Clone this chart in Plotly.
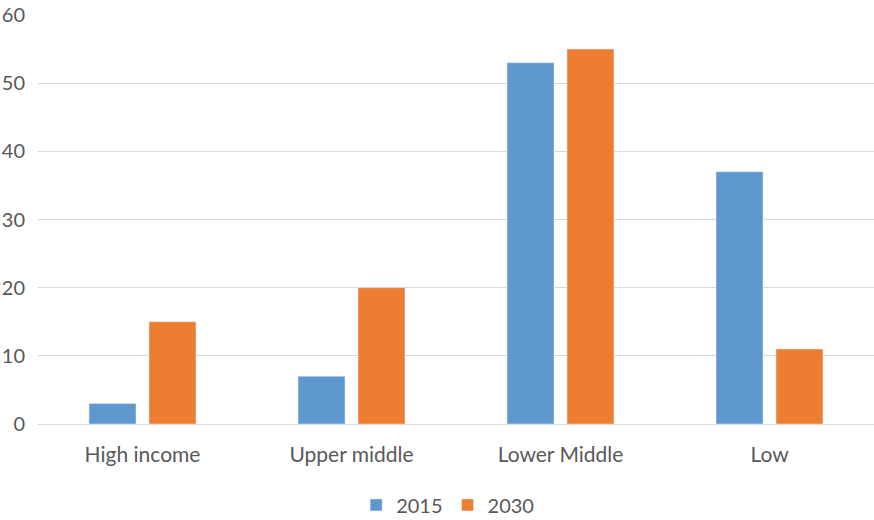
import plotly.graph_objects as go

categories = ["High income", "Upper middle", "Lower Middle", "Low"]
values_2015 = [3, 7, 53, 37]
values_2030 = [15, 20, 55, 11]

fig = go.Figure()
fig.add_trace(go.Bar(name="2015", x=categories, y=values_2015, marker_color="#5f98cf"))
fig.add_trace(go.Bar(name="2030", x=categories, y=values_2030, marker_color="#ed7d31"))

font = dict(family="Lato, Carlito, Calibri, sans-serif", size=21, color="#595959")
yfont = dict(family="Lato, Carlito, Calibri, sans-serif", size=20, color="#595959")
fig.update_layout(
    width=874, height=520,
    margin=dict(l=38, r=0, t=15, b=96, autoexpand=False),
    paper_bgcolor="white", plot_bgcolor="white",
    barmode="group", bargap=0.426, bargroupgap=0.217,
    font=font,
    showlegend=True,
    legend=dict(orientation="h", x=0.49, xanchor="center", yref="container", y=0.029, yanchor="middle",
                font=dict(size=20, color="#595959"), itemwidth=30, traceorder="normal"),
    xaxis=dict(showgrid=False, showline=True, linecolor="#d9d9d9", linewidth=1,
               ticks="outside", ticklen=12, tickcolor="rgba(0,0,0,0)", tickfont=font),
    yaxis=dict(range=[0, 60], dtick=10, showgrid=True, gridcolor="#d9d9d9", gridwidth=1,
               zeroline=False, showline=False, ticks="outside", ticklen=8,
               tickcolor="rgba(0,0,0,0)", tickfont=yfont),
)
fig.write_html("out.html")
